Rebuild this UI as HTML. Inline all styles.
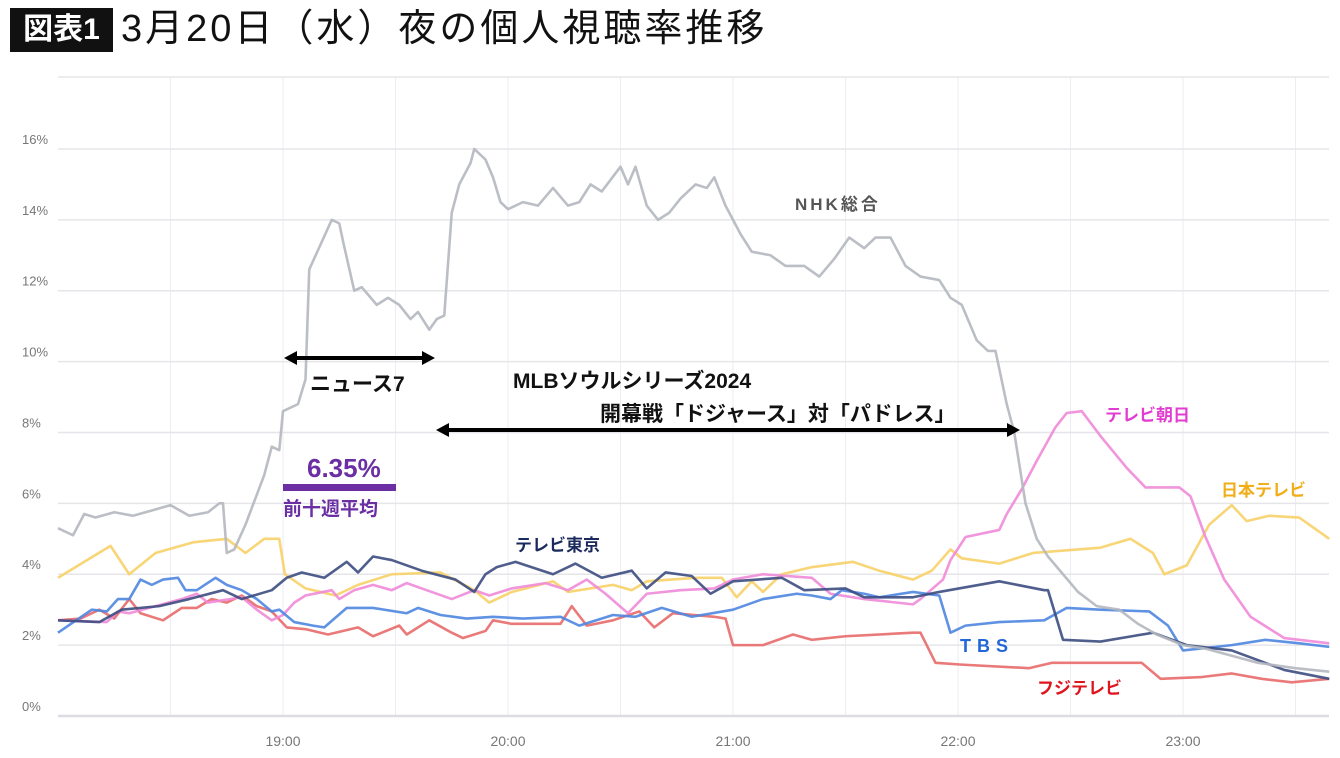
<!DOCTYPE html>
<html><head><meta charset="utf-8">
<style>
body{margin:0;background:#fff;width:1340px;height:758px;overflow:hidden;font-family:"Liberation Sans","Noto Sans CJK JP",sans-serif;}
#title-box{position:absolute;left:10px;top:8px;width:103px;height:44px;background:#111;color:#fff;font-size:30px;font-weight:bold;line-height:44px;text-align:center;}
#title{position:absolute;left:121px;top:3px;font-size:38px;line-height:52px;color:#111;letter-spacing:3px;}
svg{position:absolute;left:0;top:0;}
</style></head><body>
<div id="title-box">図表1</div>
<div id="title">3月20日（水）夜の個人視聴率推移</div>
<svg id="chart" width="1340" height="758"></svg>
<script>
const yTicks=[0,2,4,6,8,10,12,14,16];
const xTickLabels=["19:00","20:00","21:00","22:00","23:00"];
const xTickMins=[60,120,180,240,300];
const nhkT=[0,4,7,10,15,20,25,30,35,40,43,44,45,47,50,55,57,59,60,64,66,67,70,73,75,76,79,81,85,88,91,94,96,99,101,103,105,107,110,111,114,116,118,120,124,128,132,136,139,142,145,150,152,154,157,160,163,166,170,173,175,178,182,185,190,194,199,203,207,211,215,218,222,226,230,235,238,241,245,248,250,253,255,258,261,264,268,272,277,283,288,293,300,306,313,320,330,339];
const nhkV=[5.3,5.1,5.7,5.6,5.75,5.65,5.8,5.95,5.65,5.75,6.0,6.0,4.6,4.7,5.4,6.8,7.6,7.5,8.6,8.8,9.5,12.6,13.3,14.0,13.9,13.4,12.0,12.1,11.6,11.8,11.6,11.2,11.4,10.9,11.2,11.3,14.2,15.0,15.6,16.0,15.7,15.2,14.5,14.3,14.5,14.4,14.9,14.4,14.5,15.0,14.8,15.5,15.0,15.5,14.4,14.0,14.2,14.6,15.0,14.9,15.2,14.4,13.6,13.1,13.0,12.7,12.7,12.4,12.9,13.5,13.2,13.5,13.5,12.7,12.4,12.3,11.8,11.6,10.6,10.3,10.3,8.8,8.0,6.0,5.0,4.5,4.0,3.5,3.1,3.0,2.6,2.3,2.0,1.9,1.7,1.5,1.35,1.25];
const ntvT=[0,14,19,26,36,45,50,55,59,60.5,66,74,80,89,102,111,115,121,132,136,148,153,157,170,177,181,185,188,193,201,212,219,228,233,238,241,251,260,278,286,292,295,301,307,313,317,323,331,339];
const ntvV=[3.9,4.8,4.0,4.6,4.9,5.0,4.6,5.0,5.0,4.0,3.6,3.4,3.7,4.0,4.05,3.55,3.2,3.5,3.8,3.5,3.7,3.55,3.8,3.9,3.9,3.35,3.8,3.5,4.0,4.2,4.35,4.1,3.85,4.1,4.7,4.45,4.3,4.6,4.75,5.0,4.6,4.0,4.25,5.4,5.95,5.5,5.65,5.6,5.0];
const txT=[0,11,17,27,35,44,49,57,61,65,71,77,80,84,89,97,106,111,114,117,122,132,138,145,153,157,162,169,174,180,193,199,210,215,228,235,251,263,264,268,278,292,301,313,327,339];
const txV=[2.7,2.65,3.0,3.1,3.3,3.55,3.3,3.55,3.9,4.05,3.9,4.35,4.05,4.5,4.4,4.1,3.85,3.5,4.0,4.2,4.35,4.0,4.3,3.9,4.1,3.6,4.05,3.95,3.45,3.8,3.9,3.55,3.6,3.35,3.35,3.5,3.8,3.55,3.55,2.15,2.1,2.35,2.0,1.85,1.3,1.05];
const tbsT=[0,9,13,16,19,22,25,28,32,34,37,42,45,49,53,57,59,63,68,71,77,84,93,96,102,109,116,124,134,139,148,154,161,169,180,188,197,201,206,209,215,219,228,235,238,242,251,263,269,278,291,296,300,313,322,331,339];
const tbsV=[2.35,3.0,2.95,3.3,3.3,3.85,3.7,3.85,3.9,3.55,3.55,3.9,3.7,3.55,3.3,2.95,3.0,2.65,2.55,2.5,3.05,3.05,2.9,3.05,2.85,2.75,2.8,2.75,2.8,2.55,2.85,2.8,3.05,2.8,3.0,3.3,3.45,3.4,3.3,3.55,3.45,3.35,3.5,3.4,2.35,2.55,2.65,2.7,3.05,3.0,2.95,2.55,1.85,2.0,2.15,2.05,1.95];
const cxT=[0,6,11,15,19,22,28,33,37,41,45,49,53,57,61,66,72,80,84,91,93,99,105,108,114,116,121,134,137,141,148,155,159,164,175,178,180,188,196,201,210,228,230,234,241,259,265,289,294,305,313,321,329,339];
const cxV=[2.7,2.75,3.0,2.75,3.3,2.9,2.7,3.05,3.05,3.3,3.2,3.4,3.1,2.95,2.5,2.45,2.3,2.5,2.25,2.55,2.3,2.7,2.35,2.2,2.4,2.7,2.6,2.6,3.1,2.55,2.7,2.95,2.5,2.9,2.8,2.75,2.0,2.0,2.3,2.15,2.25,2.35,2.35,1.5,1.45,1.35,1.5,1.5,1.05,1.1,1.2,1.05,0.95,1.05];
const exT=[0,13,16,19,26,33,37,40,49,53,57,60,63,66,73,75,79,84,89,93,97,105,111,115,121,130,136,141,146,152,157,166,175,180,188,201,206,215,228,230,236,238,242,251,253,257,261,266,269,273,278,285,290,299,302,306,311,318,327,339];
const exV=[2.7,2.65,2.95,2.9,3.1,3.3,3.45,3.2,3.35,3.0,2.7,2.85,3.2,3.4,3.55,3.3,3.55,3.7,3.55,3.75,3.6,3.3,3.55,3.4,3.6,3.75,3.55,3.85,3.45,2.9,3.45,3.55,3.6,3.85,4.0,3.9,3.45,3.3,3.15,3.3,3.85,4.4,5.05,5.25,5.7,6.4,7.2,8.15,8.55,8.6,7.9,7.0,6.45,6.45,6.2,5.05,3.85,2.8,2.2,2.05];

const NS="http://www.w3.org/2000/svg";
const svg=document.getElementById('chart');
const X=m=>58+m*3.75;
const Y=v=>716-v*35.44;
function mk(tag,attrs,parent){const e=document.createElementNS(NS,tag);for(const k in attrs)e.setAttribute(k,attrs[k]);(parent||svg).appendChild(e);return e;}
const grid=mk('g',{});


for(let m=30;m<=330;m+=30){const l=mk('line',{x1:X(m),x2:X(m),y1:77,y2:716,stroke:'#ececf2','stroke-width':1},grid);

}
mk('line',{x1:58,x2:1329,y1:77,y2:77,stroke:'#e6e6ea','stroke-width':1.5},grid);
yTicks.forEach(v=>{const l=mk('line',{x1:58,x2:1329,y1:Y(v),y2:Y(v),stroke:v===0?'#dcdce2':'#e6e6ea','stroke-width':v===0?2.5:1.5},grid);


const t=mk('text',{x:22,y:Y(v)-5,'font-size':13,fill:'#777','font-family':'Liberation Sans,sans-serif'});t.textContent=v+'%';

});
xTickMins.forEach((m,i)=>{const t=mk('text',{x:X(m),y:746,'font-size':14,fill:'#777','text-anchor':'middle'});t.textContent=xTickLabels[i];

});
function series(T,V,color,name){const p=mk('polyline',{points:T.map((t,i)=>X(t)+','+Y(V[i])).join(' '),fill:'none',stroke:color,'stroke-width':2.6,'stroke-linejoin':'round','stroke-opacity':0.9});

}
series(ntvT,ntvV,'#f7d068','line-nihon-tv');
series(cxT,cxV,'#e86a6a','line-fuji-tv');
series(exT,exV,'#f08ad8','line-tv-asahi');
series(tbsT,tbsV,'#4f86e0','line-tbs');
series(txT,txV,'#3c4c80','line-tv-tokyo');
series(nhkT,nhkV,'#b4b8bf','line-nhk');
function label(x,y,txt,color,size,name,extra){const t=mk('text',Object.assign({x:x,y:y,'font-size':size,fill:color,'font-weight':'bold','font-family':'Liberation Sans,Noto Sans CJK JP,sans-serif'},extra||{}));t.textContent=txt;

return t;}
label(795,210,'NHK総合','#555',17,'label-nhk',{'letter-spacing':3});
label(1105,421,'テレビ朝日','#e23cd0',17,'label-tv-asahi');
label(1221,496,'日本テレビ','#f0ae18',17,'label-nihon-tv');
label(515,551,'テレビ東京','#1b2a5c',17,'label-tv-tokyo');
label(960,652,'TBS','#2266d8',18,'label-tbs',{'letter-spacing':6});
label(1037,694,'フジテレビ','#e0141e',17,'label-fuji-tv');
function arrow(x1,x2,y,name){const g=mk('g',{});


mk('line',{x1:x1+8,x2:x2-8,y1:y,y2:y,stroke:'#000','stroke-width':4},g);
mk('polygon',{points:`${x1},${y} ${x1+13},${y-7} ${x1+13},${y+7}`,fill:'#000'},g);
mk('polygon',{points:`${x2},${y} ${x2-13},${y-7} ${x2-13},${y+7}`,fill:'#000'},g);}
arrow(284,435,358,'news7-arrow');
arrow(436,1020,430,'mlb-arrow');
label(310,391,'ニュース7','#111',21,'label-news7');
label(513,388,'MLBソウルシリーズ2024','#111',21,'label-mlb-title');
label(600,421,'開幕戦「ドジャース」対「パドレス」','#111',21,'label-mlb-game');
label(307,477,'6.35%','#6b2fa3',26,'avg-value');
const bar=mk('rect',{x:283,y:484,width:113,height:7,fill:'#6b2fa3'});


label(283,515,'前十週平均','#6b2fa3',19,'avg-label');
</script>
</body></html>
